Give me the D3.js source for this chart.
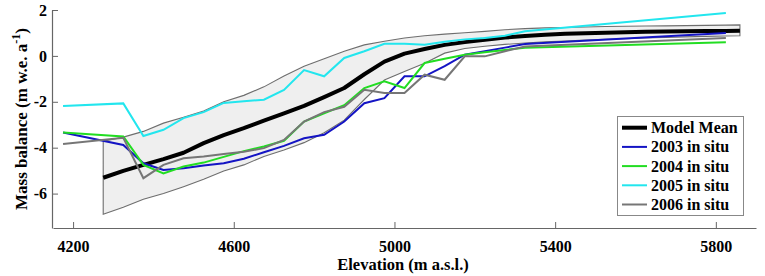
<!DOCTYPE html>
<html>
<head>
<meta charset="utf-8">
<script src="https://cdn.jsdelivr.net/npm/d3@7"></script>
<style>
  body { margin: 0; background: #fff; }
  svg { display: block; }
  text { font-family: "Liberation Serif", "Times New Roman", serif; font-weight: bold; }
</style>
</head>
<body>
<div id="chart"></div>
<script>
// model elevations (m a.s.l.) and envelope
const modelElev = [4275, 4325, 4375, 4425, 4475, 4525, 4575, 4625, 4675, 4725, 4775, 4825, 4875, 4925, 4975, 5025,
  5075, 5125, 5175, 5225, 5275, 5325, 5375, 5425, 5475, 5525, 5575, 5625, 5675, 5725, 5775, 5825, 5860];
const modelMean = [-5.31, -5.01, -4.75, -4.50, -4.22, -3.80, -3.45, -3.15, -2.82, -2.50, -2.18, -1.80, -1.40, -0.80, -0.25, 0.10,
  0.30, 0.48, 0.60, 0.70, 0.80, 0.87, 0.92, 0.96, 0.99, 1.01, 1.03, 1.05, 1.06, 1.07, 1.08, 1.09, 1.10];
const modelUpper = [-3.72, -3.54, -3.29, -2.93, -2.67, -2.40, -2.00, -1.72, -1.35, -0.88, -0.45, -0.12, 0.20, 0.48, 0.64, 0.78,
  0.88, 0.95, 1.01, 1.07, 1.14, 1.19, 1.22, 1.24, 1.26, 1.28, 1.29, 1.30, 1.31, 1.32, 1.33, 1.34, 1.35];
const modelLower = [-6.90, -6.60, -6.25, -6.00, -5.70, -5.38, -5.02, -4.75, -4.38, -4.10, -3.78, -3.35, -2.80, -1.90, -1.05, -0.68,
  -0.32, 0.12, 0.32, 0.42, 0.50, 0.56, 0.61, 0.65, 0.69, 0.72, 0.75, 0.78, 0.80, 0.83, 0.85, 0.87, 0.88];

// in situ elevations
const inSituElev = [4175, 4325, 4375, 4425, 4475, 4525, 4575, 4625, 4675, 4725, 4775, 4825, 4875, 4925, 4975, 5025,
  5075, 5125, 5175, 5225, 5275, 5325, 5825];
const mb2003 = [-3.34, -3.88, -4.68, -4.97, -4.90, -4.78, -4.68, -4.48, -4.20, -3.92, -3.59, -3.44, -2.86, -2.06, -1.84, -0.89,
  -0.89, -0.45, 0.05, 0.20, 0.36, 0.52, 1.00];
const mb2004 = [-3.34, -3.51, -4.75, -5.12, -4.82, -4.65, -4.40, -4.15, -3.95, -3.70, -2.86, -2.50, -2.15, -1.40, -1.11, -1.40,
  -0.31, -0.12, 0.05, 0.16, 0.26, 0.35, 0.59];
const mb2005 = [-2.18, -2.07, -3.49, -3.22, -2.71, -2.45, -2.05, -1.98, -1.91, -1.48, -0.62, -0.89, -0.09, 0.20, 0.53, 0.53,
  0.49, 0.62, 0.72, 0.78, 0.88, 1.07, 1.87];
const mb2006 = [-3.84, -3.57, -5.33, -4.75, -4.46, -4.38, -4.28, -4.18, -4.02, -3.66, -2.86, -2.45, -2.22, -1.48, -1.62, -1.62,
  -0.82, -1.04, -0.02, -0.02, 0.20, 0.41, 0.78];

const xTicks = [4200, 4600, 5000, 5400, 5800];
const yTicks = [-6, -4, -2, 0, 2];
const legendLabels = ["Model Mean", "2003 in situ", "2004 in situ", "2005 in situ", "2006 in situ"];

const W = 765, H = 276;
const svg = d3.select("#chart").append("svg").attr("width", W).attr("height", H);

const x = d3.scaleLinear().domain([4150, 5900]).range([53, 756]);
const y = d3.scaleLinear().domain([-7.5, 2]).range([228, 10]);

// model envelope
const band = modelElev.map((e, i) => ({ e, lo: modelLower[i], hi: modelUpper[i] }));
svg.append("path")
  .datum(band)
  .attr("d", d3.area().x(d => x(d.e)).y0(d => y(d.lo)).y1(d => y(d.hi)))
  .attr("fill", "#efefef")
  .attr("stroke", "#6e6e6e")
  .attr("stroke-width", 1.1);

const line = d3.line().x(d => x(d[0])).y(d => y(d[1]));

svg.append("path")
  .datum(d3.zip(modelElev, modelMean))
  .attr("d", line)
  .attr("fill", "none")
  .attr("stroke", "#000")
  .attr("stroke-width", 4)
  .attr("stroke-linejoin", "round");

const series = [
  { v: mb2003, c: "#1414c4" },
  { v: mb2004, c: "#22dd22" },
  { v: mb2005, c: "#22e6ee" },
  { v: mb2006, c: "#767676" }
];
series.forEach(s => {
  svg.append("path")
    .datum(d3.zip(inSituElev, s.v))
    .attr("d", line)
    .attr("fill", "none")
    .attr("stroke", s.c)
    .attr("stroke-width", 2);
});

// axes
const xAxis = svg.append("g")
  .attr("transform", "translate(0,228)")
  .call(d3.axisBottom(x).tickValues(xTicks).tickSize(-6).tickSizeOuter(0).tickPadding(12.5).tickFormat(d3.format("d")));
const yAxis = svg.append("g")
  .attr("transform", "translate(52,0)")
  .call(d3.axisLeft(y).tickValues(yTicks).tickSize(-6).tickSizeOuter(0).tickPadding(5).tickFormat(d => d < 0 ? "-" + Math.abs(d) : d));
[xAxis, yAxis].forEach(g => {
  g.select(".domain").attr("stroke", "#666").attr("stroke-width", 1.2);
  g.selectAll(".tick line").attr("stroke", "#666");
  g.selectAll(".tick text").attr("fill", "#000").style("font-size", "16px")
    .style("font-family", "'Liberation Serif', 'Times New Roman', serif").style("font-weight", "bold");
});

svg.append("text")
  .attr("x", 403).attr("y", 270)
  .attr("text-anchor", "middle")
  .style("font-size", "16.5px")
  .text("Elevation (m a.s.l.)");

const yl = svg.append("text")
  .attr("transform", "translate(27,119) rotate(-90)")
  .attr("text-anchor", "middle")
  .style("font-size", "17px");
yl.append("tspan").text("Mass balance (m w.e. a");
yl.append("tspan").attr("dy", -7).style("font-size", "12px").text("-1");
yl.append("tspan").attr("dy", 7).text(")");

// legend
const lg = svg.append("g");
lg.append("rect")
  .attr("x", 617.5).attr("y", 116.5).attr("width", 126).attr("height", 99)
  .attr("fill", "#fff").attr("stroke", "#888").attr("stroke-width", 1);
const legendColors = ["#000", "#1414c4", "#22dd22", "#22e6ee", "#767676"];
legendLabels.forEach((t, i) => {
  const yy = 127.7 + i * 19.2;
  lg.append("line")
    .attr("x1", 622).attr("x2", 647).attr("y1", yy).attr("y2", yy)
    .attr("stroke", legendColors[i]).attr("stroke-width", i === 0 ? 4 : 2);
  lg.append("text")
    .attr("x", 651).attr("y", yy + 5.5)
    .style("font-size", "16px")
    .text(t);
});
</script>
</body>
</html>
